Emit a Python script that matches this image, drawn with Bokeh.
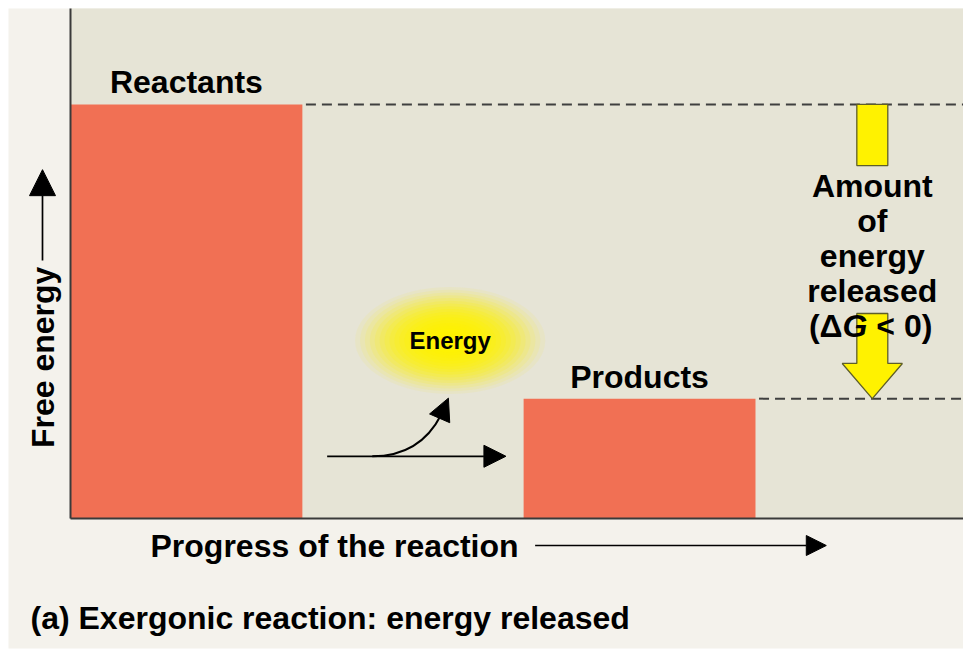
import numpy as np
from bokeh.plotting import figure
from bokeh.models import Range1d, Arrow, NormalHead
from bokeh.core.properties import value
from bokeh.embed import file_html
from bokeh.resources import INLINE

# ---- data (conceptual units: progress 0..100, free energy 0..100) ----
stages = ["Reactants", "Products"]
stage_left = [0.0, 51.2]
stage_right = [26.2, 77.4]
free_energy = [81.2, 23.5]

delta_label = ["Amount", "of", "energy", "released"]
delta_parts = ["(\u0394", "G", "< 0)"]
x_label = "Progress of the reaction"
y_label = "Free energy"
caption = "(a) Exergonic reaction: energy released"
energy_text = "Energy"

FONT = value("Liberation Sans")
BAR = "#f17054"
YEL = "#fff200"
W, H = 963, 656
PX_X, PX_Y = 8.85, 5.1          # pixels per unit
X0_PX, Y0_PX = 70, 518          # pixel position of the origin

xr = Range1d(-X0_PX / PX_X, (W - X0_PX) / PX_X)
yr = Range1d((Y0_PX - H) / PX_Y, Y0_PX / PX_Y)

p = figure(width=W, height=H, output_backend="svg", toolbar_location=None,
           x_range=xr, y_range=yr, min_border=0)
p.axis.visible = False
p.grid.visible = False
p.outline_line_color = None
p.background_fill_color = "white"
p.border_fill_color = "white"


def head(size=18):
    return NormalHead(size=size, fill_color="black", line_color="black", line_width=1)


# panel backgrounds
p.quad(left=[-62 / PX_X], right=[xr.end], bottom=[(Y0_PX - 648) / PX_Y], top=[100],
       fill_color="#f4f2ec", line_color=None)
p.quad(left=[0], right=[xr.end], bottom=[0], top=[100],
       fill_color="#e6e4d6", line_color=None)

# bars
p.quad(left=stage_left, right=stage_right, bottom=0, top=free_energy,
       fill_color=BAR, line_color=None)

# axis lines
p.segment(x0=[0, 0], y0=[0, 0], x1=[0, xr.end], y1=[100, 0],
          line_color="#3a3a3a", line_width=2)

# dashed level lines
p.segment(x0=[r + 0.4 for r in stage_right], y0=free_energy,
          x1=[xr.end, xr.end], y1=free_energy, line_color="#3f3f3f",
          line_width=2, line_dash="10 6")

# stage labels
p.text(x=[(l + r) / 2 for l, r in zip(stage_left, stage_right)],
       y=[e + 4.3 for e in free_energy], text=stages, text_font=FONT,
       text_font_style="bold", text_font_size="32px", text_align="center",
       text_baseline="middle", text_color="black")

# Delta G arrow (yellow)
ax_c = 90.6
sw = 1.75
hw = 3.4
top_e, bot_e = free_energy
p.quad(left=[ax_c - sw], right=[ax_c + sw], bottom=[top_e - 12.0], top=[top_e],
       fill_color=YEL, line_color="#5e5e2a", line_width=1.3)
shaft_top = bot_e + 16.7
neck = bot_e + 6.9
p.patch(x=[ax_c - sw, ax_c + sw, ax_c + sw, ax_c + hw, ax_c, ax_c - hw, ax_c - sw],
        y=[shaft_top, shaft_top, neck, neck, bot_e, neck, neck],
        fill_color=YEL, line_color="#5e5e2a", line_width=1.3)

step = 35 / PX_Y
p.text(x=[ax_c] * len(delta_label), y=[65.1 - step * i for i in range(len(delta_label))],
       text=delta_label, text_font=FONT, text_font_style="bold", text_font_size="32px",
       text_align="center", text_baseline="middle", text_color="black")
# "(ΔG < 0)" with italic G
em = 32 / PX_X
w_left, w_g, w_sp, w_right = 0.945 * em, 0.778 * em, 0.278 * em, 1.75 * em
g_left = ax_c - (w_left + w_g + w_sp + w_right) / 2 + w_left
y5 = 65.1 - step * 4
p.text(x=[g_left], y=[y5], text=[delta_parts[0]], text_font=FONT, text_font_style="bold",
       text_font_size="32px", text_align="right", text_baseline="middle")
p.text(x=[g_left], y=[y5], text=[delta_parts[1]], text_font=FONT,
       text_font_style="bold italic", text_font_size="32px", text_align="left",
       text_baseline="middle")
p.text(x=[g_left + w_g + w_sp], y=[y5], text=[delta_parts[2]], text_font=FONT,
       text_font_style="bold", text_font_size="32px", text_align="left",
       text_baseline="middle")

# energy glow
gx, gy = 42.9, 34.9
n = 18
for i in range(n):
    f = 1.0 - i / n
    p.ellipse(x=gx, y=gy, width=20.0 * f + 1.5, height=19.5 * f + 1.5,
              fill_color=YEL, fill_alpha=0.07 + 0.018 * i, line_color=None)
p.text(x=[gx], y=[gy], text=[energy_text], text_font=FONT, text_font_style="bold",
       text_font_size="24px", text_align="center", text_baseline="middle")

# reaction arrows
p.add_layout(Arrow(x_start=29.0, y_start=12.2, x_end=49.2, y_end=12.2,
                   line_color="black", line_width=1.7, end=head(22)))
p.bezier(x0=[34.1], y0=[12.2], cx0=[37.9], cy0=[12.2], cx1=[40.4], cy1=[15.3],
         x1=[41.9], y1=[20.4], line_color="black", line_width=2)
p.add_layout(Arrow(x_start=41.8, y_start=20.0, x_end=42.7, y_end=23.6,
                   line_color="black", line_width=2, end=head(22)))

# axis titles
yl_x = (42 - X0_PX) / PX_X
p.text(x=[yl_x], y=[31.6], text=[y_label], angle=np.pi / 2, text_font=FONT,
       text_font_style="bold", text_font_size="32px", text_align="center",
       text_baseline="middle", text_color="black")
p.add_layout(Arrow(x_start=yl_x, y_start=50.6, x_end=yl_x, y_end=68.4,
                   line_color="black", line_width=1.7, end=head(26)))
xl_y = (Y0_PX - 545) / PX_Y
p.text(x=[(150 - X0_PX) / PX_X], y=[xl_y], text=[x_label], text_font=FONT,
       text_font_style="bold", text_font_size="32px", text_align="left",
       text_baseline="middle", text_color="black")
p.add_layout(Arrow(x_start=52.5, y_start=xl_y, x_end=85.4, y_end=xl_y,
                   line_color="black", line_width=1.7, end=head(20)))
p.text(x=[(30 - X0_PX) / PX_X], y=[(Y0_PX - 617) / PX_Y], text=[caption], text_font=FONT,
       text_font_style="bold", text_font_size="32px", text_align="left",
       text_baseline="middle", text_color="black")

open("out.html", "w").write(file_html(p, INLINE))
